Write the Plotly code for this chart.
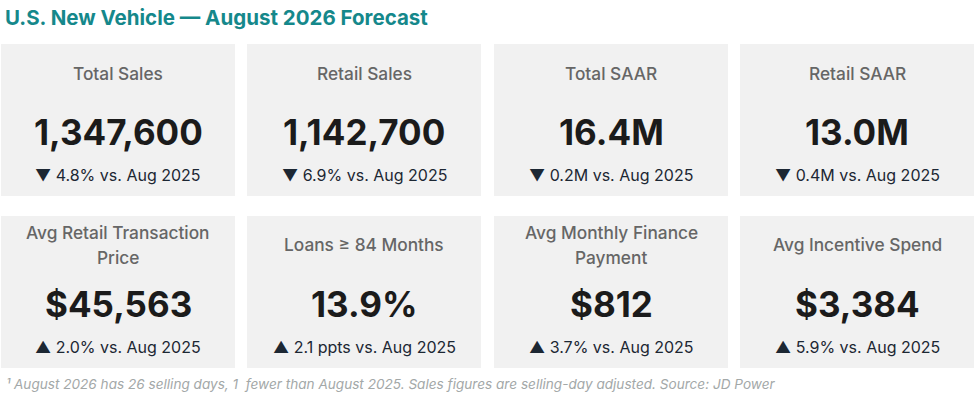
import plotly.graph_objects as go

W, H = 975, 412

labels = ["Total Sales", "Retail Sales", "Total SAAR", "Retail SAAR",
          "Avg Retail Transaction<br>Price", "Loans ≥ 84 Months",
          "Avg Monthly Finance<br>Payment", "Avg Incentive Spend"]
values = ["1,347,600", "1,142,700", "16.4M", "13.0M",
          "$45,563", "13.9%", "$812", "$3,384"]
arrows = ["▼", "▼", "▼", "▼", "▲", "▲", "▲", "▲"]
deltas = ["4.8% vs. Aug 2025", "6.9% vs. Aug 2025", "0.2M vs. Aug 2025", "0.4M vs. Aug 2025",
          "2.0% vs. Aug 2025", "2.1 ppts vs. Aug 2025", "3.7% vs. Aug 2025", "5.9% vs. Aug 2025"]

title = "U.S. New Vehicle — August 2026 Forecast"
footnote = "¹ August 2026 has 26 selling days, 1  fewer than August 2025. Sales figures are selling-day adjusted. Source: JD Power"

FONT = "Inter"

def px(x):
    return x / W

def py(y):
    return 1 - y / H

fig = go.Figure()
shapes = []
annos = []

card_x = [1, 247, 494, 740]
card_w = 234
row_top = [44, 216]
card_h = 152

for i in range(len(labels)):
    r, c = divmod(i, 4)
    x0 = card_x[c]
    y0 = row_top[r]
    cx = x0 + card_w / 2
    shapes.append(dict(type="rect", xref="paper", yref="paper",
                       x0=px(x0), x1=px(x0 + card_w), y0=py(y0 + card_h), y1=py(y0),
                       fillcolor="#f1f1f1", line=dict(width=0), layer="below"))
    lines = labels[i].split("<br>")
    start = y0 + 29 - 12.5 * (len(lines) - 1)
    for k, ln in enumerate(lines):
        annos.append(dict(xref="paper", yref="paper", x=px(cx), y=py(start + 25 * k), text=ln,
                          showarrow=False, xanchor="center", yanchor="middle",
                          font=dict(family=FONT, size=17.3, color="#666666", weight=500)))
    annos.append(dict(xref="paper", yref="paper", x=px(cx), y=py(y0 + 88),
                      text="<b>" + values[i] + "</b>", showarrow=False,
                      xanchor="center", yanchor="middle",
                      font=dict(family=FONT, size=35, color="#1b1b1b")))
    annos.append(dict(xref="paper", yref="paper", x=px(cx), y=py(y0 + 131),
                      text=arrows[i] + " " + deltas[i], showarrow=False,
                      xanchor="center", yanchor="middle",
                      font=dict(family=FONT, size=16, color="#1c2733")))

annos.append(dict(xref="paper", yref="paper", x=px(3), y=py(18), text="<b>" + title + "</b>",
                  showarrow=False, xanchor="left", yanchor="middle",
                  font=dict(family=FONT, size=20.5, color="#15888b")))
annos.append(dict(xref="paper", yref="paper", x=px(4), y=py(384), text="<i>" + footnote + "</i>",
                  showarrow=False, xanchor="left", yanchor="middle",
                  font=dict(family=FONT, size=13.6, color="#a3a8a8")))

fig.update_layout(width=W, height=H, margin=dict(l=0, r=0, t=0, b=0),
                  paper_bgcolor="white", plot_bgcolor="white",
                  xaxis=dict(visible=False), yaxis=dict(visible=False),
                  shapes=shapes, annotations=annos, showlegend=False)

fig.write_html("out.html", config={"displayModeBar": False},
               post_script="document.body.style.margin='0';")
